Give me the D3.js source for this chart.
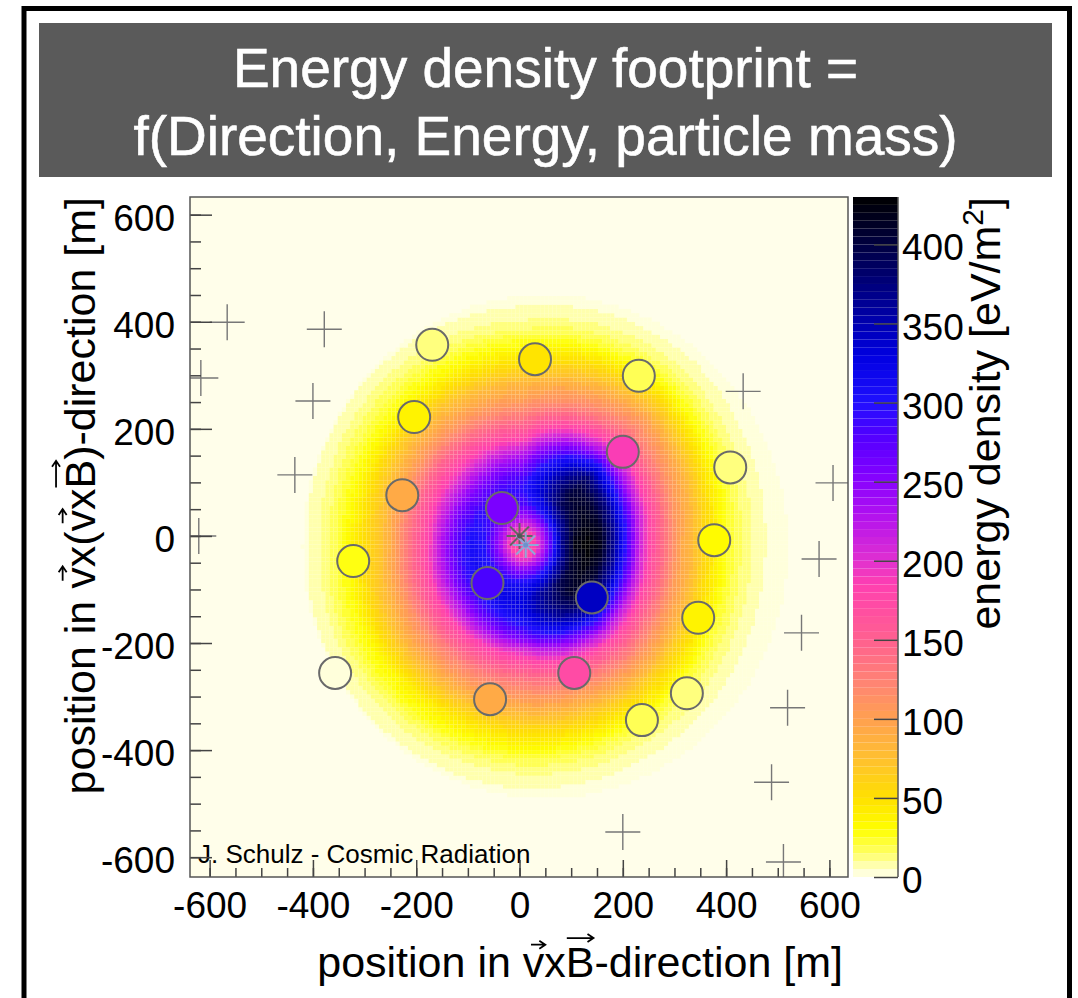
<!DOCTYPE html>
<html>
<head>
<meta charset="utf-8">
<script src="https://cdn.jsdelivr.net/npm/d3@7/dist/d3.min.js"></script>
<style>
  body { margin: 0; background: #fff; }
  svg text { font-family: "Liberation Sans", Arial, Helvetica, sans-serif; }
</style>
</head>
<body>
<div id="chart"></div>
<script>
// ---- values ----
// radial energy density profiles [eV/m2] around the footprint centre, one per direction
var radii        = [0, 25, 50, 75, 100, 125, 150, 175, 200, 225, 250, 275, 300, 325, 350, 375, 400, 425, 450, 475, 500];
var profileE     = [165, 185, 270, 370, 422, 430, 415, 360, 285, 210, 168, 132, 100, 80, 56, 37, 22, 14, 8, 4, 2];
var profileNE    = [165, 185, 255, 335, 385, 405, 400, 375, 320, 250, 195, 152, 125, 105, 80, 55, 32, 18, 10, 5, 2];
var profileN     = [165, 183, 235, 280, 295, 282, 252, 215, 175, 145, 120, 98, 82, 60, 42, 28, 15, 8, 4, 0, 0];
var profileNW    = [165, 183, 240, 282, 288, 268, 235, 200, 170, 140, 110, 90, 68, 45, 30, 20, 12, 6, 2, 0, 0];
var profileW     = [165, 185, 250, 300, 308, 280, 242, 197, 160, 130, 100, 72, 55, 40, 25, 15, 8, 4, 1, 0, 0];
var profileSW    = [165, 185, 250, 300, 315, 298, 262, 220, 180, 150, 120, 102, 78, 55, 35, 24, 13, 7, 3, 0, 0];
var profileS     = [165, 185, 255, 310, 330, 325, 302, 262, 200, 165, 138, 115, 95, 72, 52, 36, 20, 11, 6, 2, 0];
var profileSE    = [165, 185, 260, 340, 395, 410, 398, 358, 295, 225, 175, 142, 115, 92, 65, 45, 25, 15, 8, 4, 2];
var footprintCentre = [8, -15];     // m
var simAreaCentre = [50, -20];      // m, edge of the simulated area
var simAreaRadius = 470;            // m

// antennas with signal
var antennaX = [-169, 30, 231, -204, 200, 408, -227, -34, 377, -322, -62, 140, 346, 106, -357, 324, -57, 237];
var antennaY = [357, 330, 299, 222, 157, 128, 76, 52, -8, -47, -88, -115, -153, -256, -256, -294, -305, -344];
var antennaE = [11, 45, 15, 38, 185, 11, 92, 255, 33, 28, 280, 340, 35, 172, 3, 13, 90, 17];

// antennas without signal
var emptyX = [-566, -378, -617, -400, -435, -621, 433, 607, 580, 546, 519, 488, 200, 511];
var emptyY = [399, 386, 295, 252, 114, 0, 270, 99, -43, -181, -321, -460, -553, -609];

// shower cores (true, reconstructed)
var coreX = [0, 12];
var coreY = [0, -17];

var xTicks = [-600, -400, -200, 0, 200, 400, 600];
var yTicks = [-600, -400, -200, 0, 200, 400, 600];
var zTicks = [0, 50, 100, 150, 200, 250, 300, 350, 400];

// palette
var paletteValues = [0, 5, 15, 30, 50, 75, 100, 120, 150, 185, 200, 230, 255, 280, 300, 330, 350, 380, 400, 430];
var paletteColors = ["#fffff2", "#ffffc4", "#ffff66", "#ffff00", "#ffe000", "#ffc030", "#ffa050", "#ff8870",
                     "#ff6090", "#ff40b0", "#e030d0", "#b010f0", "#8000ff", "#5000ff", "#2010ff", "#0000e0",
                     "#0000b0", "#000070", "#000040", "#000000"];

// ---- layout ----
var svgWidth = 1078, svgHeight = 998;
var plot = { left: 190, right: 848, top: 197, bottom: 877 };

var svg = d3.select("#chart").append("svg")
  .attr("width", svgWidth)
  .attr("height", svgHeight);

// outer slide frame and title
svg.append("rect")
  .attr("x", 24).attr("y", 8.5).attr("width", 1045.5).attr("height", 1010)
  .attr("fill", "#fff").attr("stroke", "#000").attr("stroke-width", 5);

svg.append("rect")
  .attr("x", 39).attr("y", 23).attr("width", 1013).attr("height", 154)
  .attr("fill", "#5a5a5a");

var titleLines = ["Energy density footprint =", "f(Direction, Energy, particle mass)"];
svg.selectAll(".title").data(titleLines).enter().append("text")
  .attr("class", "title")
  .attr("x", 545.5)
  .attr("y", function(d, i) { return 87 + i * 68; })
  .attr("text-anchor", "middle")
  .attr("font-size", 55)
  .attr("fill", "#fff")
  .attr("stroke", "#fff")
  .attr("stroke-width", 0.6)
  .text(function(d) { return d; });

// scales
var x = d3.scaleLinear().domain([-638, 636]).range([plot.left, plot.right]);
var y = d3.scaleLinear().domain([-637, 633]).range([plot.bottom, plot.top]);
var zPos = d3.scaleLinear().domain([0, 430]).range([plot.bottom, plot.top]);

var colorRamp = d3.scaleLinear().domain(paletteValues).range(paletteColors).interpolate(d3.interpolateRgb);
var band = 5;
function colorOf(v) {
  var b = Math.min(Math.floor(v / band), Math.floor(429 / band));
  return colorRamp(b * band + band / 2);
}

// angular interpolation between the eight profiles
var profiles = [profileE, profileNE, profileN, profileNW, profileW, profileSW, profileS, profileSE, profileE]
  .map(function(p) { return d3.scaleLinear().domain(radii).range(p).clamp(true); });
function density(px, py) {
  var ex = px - simAreaCentre[0], ey = py - simAreaCentre[1];
  if (Math.sqrt(ex * ex + ey * ey) > simAreaRadius) return 0;
  var dx = px - footprintCentre[0], dy = py - footprintCentre[1];
  var r = Math.sqrt(dx * dx + dy * dy);
  var phi = Math.atan2(dy, dx) * 180 / Math.PI;
  if (phi < 0) phi += 360;
  var k = Math.floor(phi / 45), t = phi / 45 - k;
  return (1 - t) * profiles[k](r) + t * profiles[k + 1](r);
}

svg.append("clipPath").attr("id", "plotClip")
  .append("rect")
  .attr("x", plot.left).attr("y", plot.top)
  .attr("width", plot.right - plot.left).attr("height", plot.bottom - plot.top);

// frame background
svg.append("rect")
  .attr("x", plot.left).attr("y", plot.top)
  .attr("width", plot.right - plot.left).attr("height", plot.bottom - plot.top)
  .attr("fill", "#fffeea");

// heat map cells
var binSize = 8;
var cells = [];
for (var bx = -640; bx < 640; bx += binSize) {
  for (var by = -640; by < 640; by += binSize) {
    var v = density(bx + binSize / 2, by + binSize / 2);
    if (v >= 0.5) cells.push({ x0: bx, y0: by, v: v });
  }
}

var heat = svg.append("g").attr("clip-path", "url(#plotClip)");
heat.selectAll("rect")
  .data(cells)
  .enter()
  .append("rect")
  .attr("x", function(d) { return x(d.x0); })
  .attr("y", function(d) { return y(d.y0 + binSize); })
  .attr("width", function(d) { return x(d.x0 + binSize) - x(d.x0); })
  .attr("height", function(d) { return y(d.y0) - y(d.y0 + binSize); })
  .attr("fill", function(d) { return colorOf(d.v); });

// markers
var markers = svg.append("g").attr("clip-path", "url(#plotClip)");

markers.selectAll(".empty")
  .data(emptyX)
  .enter()
  .append("path")
  .attr("class", "empty")
  .attr("transform", function(d, i) { return "translate(" + x(d) + "," + y(emptyY[i]) + ")"; })
  .attr("d", "M-17.5,0H17.5M0,-18V18")
  .attr("stroke", "#777")
  .attr("stroke-width", 1.4)
  .attr("fill", "none");

markers.selectAll(".antenna")
  .data(antennaX)
  .enter()
  .append("circle")
  .attr("class", "antenna")
  .attr("cx", function(d) { return x(d); })
  .attr("cy", function(d, i) { return y(antennaY[i]); })
  .attr("r", 16)
  .attr("fill", function(d, i) { return colorOf(antennaE[i]); })
  .attr("stroke", "#6a6a6a")
  .attr("stroke-width", 2);

var starColors = ["#666666", "#8fa8d8"];
markers.selectAll(".core")
  .data(coreX)
  .enter()
  .append("path")
  .attr("class", "core")
  .attr("transform", function(d, i) { return "translate(" + x(d) + "," + y(coreY[i]) + ")"; })
  .attr("d", "M-13,0H13M0,-13V13M-9.5,-9.5L9.5,9.5M-9.5,9.5L9.5,-9.5")
  .attr("stroke", function(d, i) { return starColors[i]; })
  .attr("stroke-width", 2)
  .attr("fill", "none");

markers.selectAll(".coredot")
  .data(coreX)
  .enter()
  .append("circle")
  .attr("cx", function(d) { return x(d); })
  .attr("cy", function(d, i) { return y(coreY[i]); })
  .attr("r", 2.5)
  .attr("fill", function(d, i) { return i ? "#6f90cc" : "#555"; });

// credit
svg.append("text")
  .attr("x", 198).attr("y", 863)
  .attr("font-size", 26)
  .attr("fill", "#000")
  .text("J. Schulz - Cosmic Radiation");

// axes
function plain(d) { return String(d); }   // hyphen minus like the original
function styleAxis(g, dy) {
  g.select(".domain").remove();
  g.attr("font-family", null).attr("font-size", null);
  g.selectAll(".tick line").attr("stroke", "#444").attr("stroke-width", 1.5);
  g.selectAll(".tick text").attr("font-size", 37).attr("fill", "#000");
  if (dy) g.selectAll(".tick text").attr("dy", dy);
}

var minorTicks = d3.range(-600, 601, 50);

svg.append("g")
  .attr("transform", "translate(0," + plot.bottom + ")")
  .call(d3.axisBottom(x).tickValues(minorTicks).tickSize(-9).tickFormat(""))
  .call(styleAxis);
svg.append("g")
  .attr("transform", "translate(0," + plot.bottom + ")")
  .call(d3.axisBottom(x).tickValues(xTicks).tickSize(-17).tickPadding(15).tickFormat(plain))
  .call(styleAxis);

svg.append("g")
  .attr("transform", "translate(" + plot.left + ",0)")
  .call(d3.axisLeft(y).tickValues(minorTicks).tickSize(-11).tickFormat(""))
  .call(styleAxis);
svg.append("g")
  .attr("transform", "translate(" + plot.left + ",0)")
  .call(d3.axisLeft(y).tickValues(yTicks).tickSize(-22).tickPadding(15).tickFormat(plain))
  .call(function(g) { styleAxis(g, "0.42em"); });

// frame
svg.append("rect")
  .attr("x", plot.left).attr("y", plot.top)
  .attr("width", plot.right - plot.left).attr("height", plot.bottom - plot.top)
  .attr("fill", "none").attr("stroke", "#555").attr("stroke-width", 1.5);

// colour bar
var barLeft = 853, barRight = 898;
var bandStarts = d3.range(0, 430, band);
svg.append("g").selectAll("rect")
  .data(bandStarts)
  .enter()
  .append("rect")
  .attr("x", barLeft)
  .attr("y", function(d) { return zPos(Math.min(d + band, 430)); })
  .attr("width", barRight - barLeft)
  .attr("height", function(d) { return zPos(d) - zPos(Math.min(d + band, 430)); })
  .attr("fill", function(d) { return colorRamp(d + band / 2); });

var zAxisG = svg.append("g")
  .attr("transform", "translate(" + barRight + ",0)")
  .call(d3.axisRight(zPos).tickValues(zTicks).tickSize(-24).tickPadding(4).tickSizeOuter(0).tickFormat(plain));
styleAxis(zAxisG, "0.42em");
zAxisG.append("line")
  .attr("x1", 0).attr("x2", 0).attr("y1", plot.top).attr("y2", plot.bottom)
  .attr("stroke", "#555").attr("stroke-width", 1.5);

// axis titles with vector arrows
function vecArrows(textSel, idx, g, fs) {
  var node = textSel.node();
  idx.forEach(function(i) {
    var ch = node.textContent.charAt(i);
    var ext = node.getExtentOfChar(i);
    var base = node.getStartPositionOfChar(i).y;
    var upper = ch === ch.toUpperCase();
    var yA = base - (upper ? 0.72 : 0.52) * fs - (upper ? 8 : 10);
    var x0 = ext.x + (upper ? 1 : ext.width * 0.38);
    var x1 = ext.x + ext.width - (upper ? 1 : -1);
    g.append("path")
      .attr("d", "M" + x0 + "," + yA + "H" + x1 + "M" + (x1 - 6) + "," + (yA - 4) + "L" + x1 + "," + yA + "L" + (x1 - 6) + "," + (yA + 4))
      .attr("stroke", "#000").attr("stroke-width", 1.8).attr("fill", "none");
  });
}

var xTitleG = svg.append("g");
var xTitle = xTitleG.append("text")
  .attr("x", 843).attr("y", 977)
  .attr("text-anchor", "end")
  .attr("font-size", 43)
  .text("position in vxB-direction [m]");
vecArrows(xTitle, [12, 14], xTitleG, 43);

var yTitleG = svg.append("g").attr("transform", "translate(95,197) rotate(-90)");
var yTitle = yTitleG.append("text")
  .attr("x", 0).attr("y", 0)
  .attr("text-anchor", "end")
  .attr("font-size", 43)
  .text("position in vx(vxB)-direction [m]");
vecArrows(yTitle, [12, 15, 17], yTitleG, 43);

var zTitle = svg.append("g").attr("transform", "translate(1000,197) rotate(-90)")
  .append("text")
  .attr("text-anchor", "end")
  .attr("font-size", 43);
zTitle.append("tspan").text("energy density [eV/m");
zTitle.append("tspan").attr("font-size", 30).attr("dy", -17).text("2");
zTitle.append("tspan").attr("dy", 17).text("]");
</script>
</body>
</html>
